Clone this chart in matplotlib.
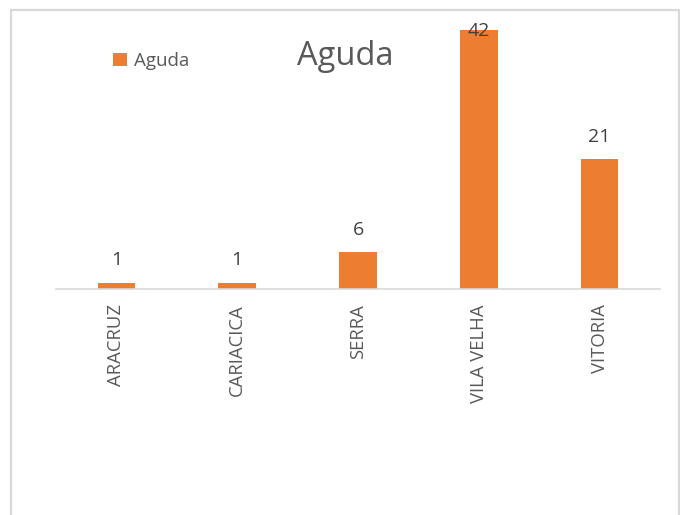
import matplotlib
matplotlib.use('Agg')
import matplotlib.pyplot as plt
from matplotlib.patches import Rectangle

# data
categories = ['ARACRUZ', 'CARIACICA', 'SERRA', 'VILA VELHA', 'VITORIA']
values = [1, 1, 6, 42, 21]
series_name = 'Aguda'

ORANGE = '#ED7D31'
plt.rcParams['font.family'] = ['Open Sans', 'DejaVu Sans']

W, H = 680, 515
fig = plt.figure(figsize=(W / 100, H / 100), dpi=100)

# chart border (light gray, bottom runs off the image)
fig.patches.append(Rectangle((11 / W, -0.05), 668 / W, 1.05 - 10 / H,
                             transform=fig.transFigure, fill=False,
                             edgecolor='#d9d9d9', linewidth=1.6))

ymax = 45
ax = fig.add_axes((56 / W, (H - 289) / H, 604 / W, ymax * 6.167 / H))
x = range(len(categories))
bars = ax.bar(x, values, width=0.31, color=ORANGE, label=series_name)
ax.set_xlim(-0.5, len(categories) - 0.5)
ax.set_ylim(0, ymax)

for s in ['top', 'right', 'left']:
    ax.spines[s].set_visible(False)
ax.spines['bottom'].set_color('#d9d9d9')
ax.spines['bottom'].set_linewidth(1.2)
ax.set_yticks([])
ax.set_xticks(list(x))
ax.set_xticklabels(categories, rotation=90, fontsize=13.3, color='#595959')
ax.tick_params(axis='x', length=0, pad=11)

# data labels
for b, v in zip(bars, values):
    cx = b.get_x() + b.get_width() / 2
    if v > ymax * 0.85:
        ax.annotate(str(v), (cx, v), xytext=(0, 6), textcoords='offset points',
                    ha='center', va='top', fontsize=14, color='#404040')
    else:
        ax.annotate(str(v), (cx, v), xytext=(0, 12.5), textcoords='offset points',
                    ha='center', va='baseline', fontsize=14, color='#404040')

fig.text(345.5 / W, 1 - 65 / H, 'Aguda', ha='center', va='baseline',
         fontsize=23.5, color='#595959')

fig.legend(handles=[bars], labels=[series_name], loc='center left',
           bbox_to_anchor=(104 / W, 1 - 61 / H), frameon=False,
           fontsize=13.5, labelcolor='#595959', handlelength=0.75,
           handleheight=0.75, handletextpad=0.35, borderpad=0)

fig.savefig('out.png', dpi=100)
